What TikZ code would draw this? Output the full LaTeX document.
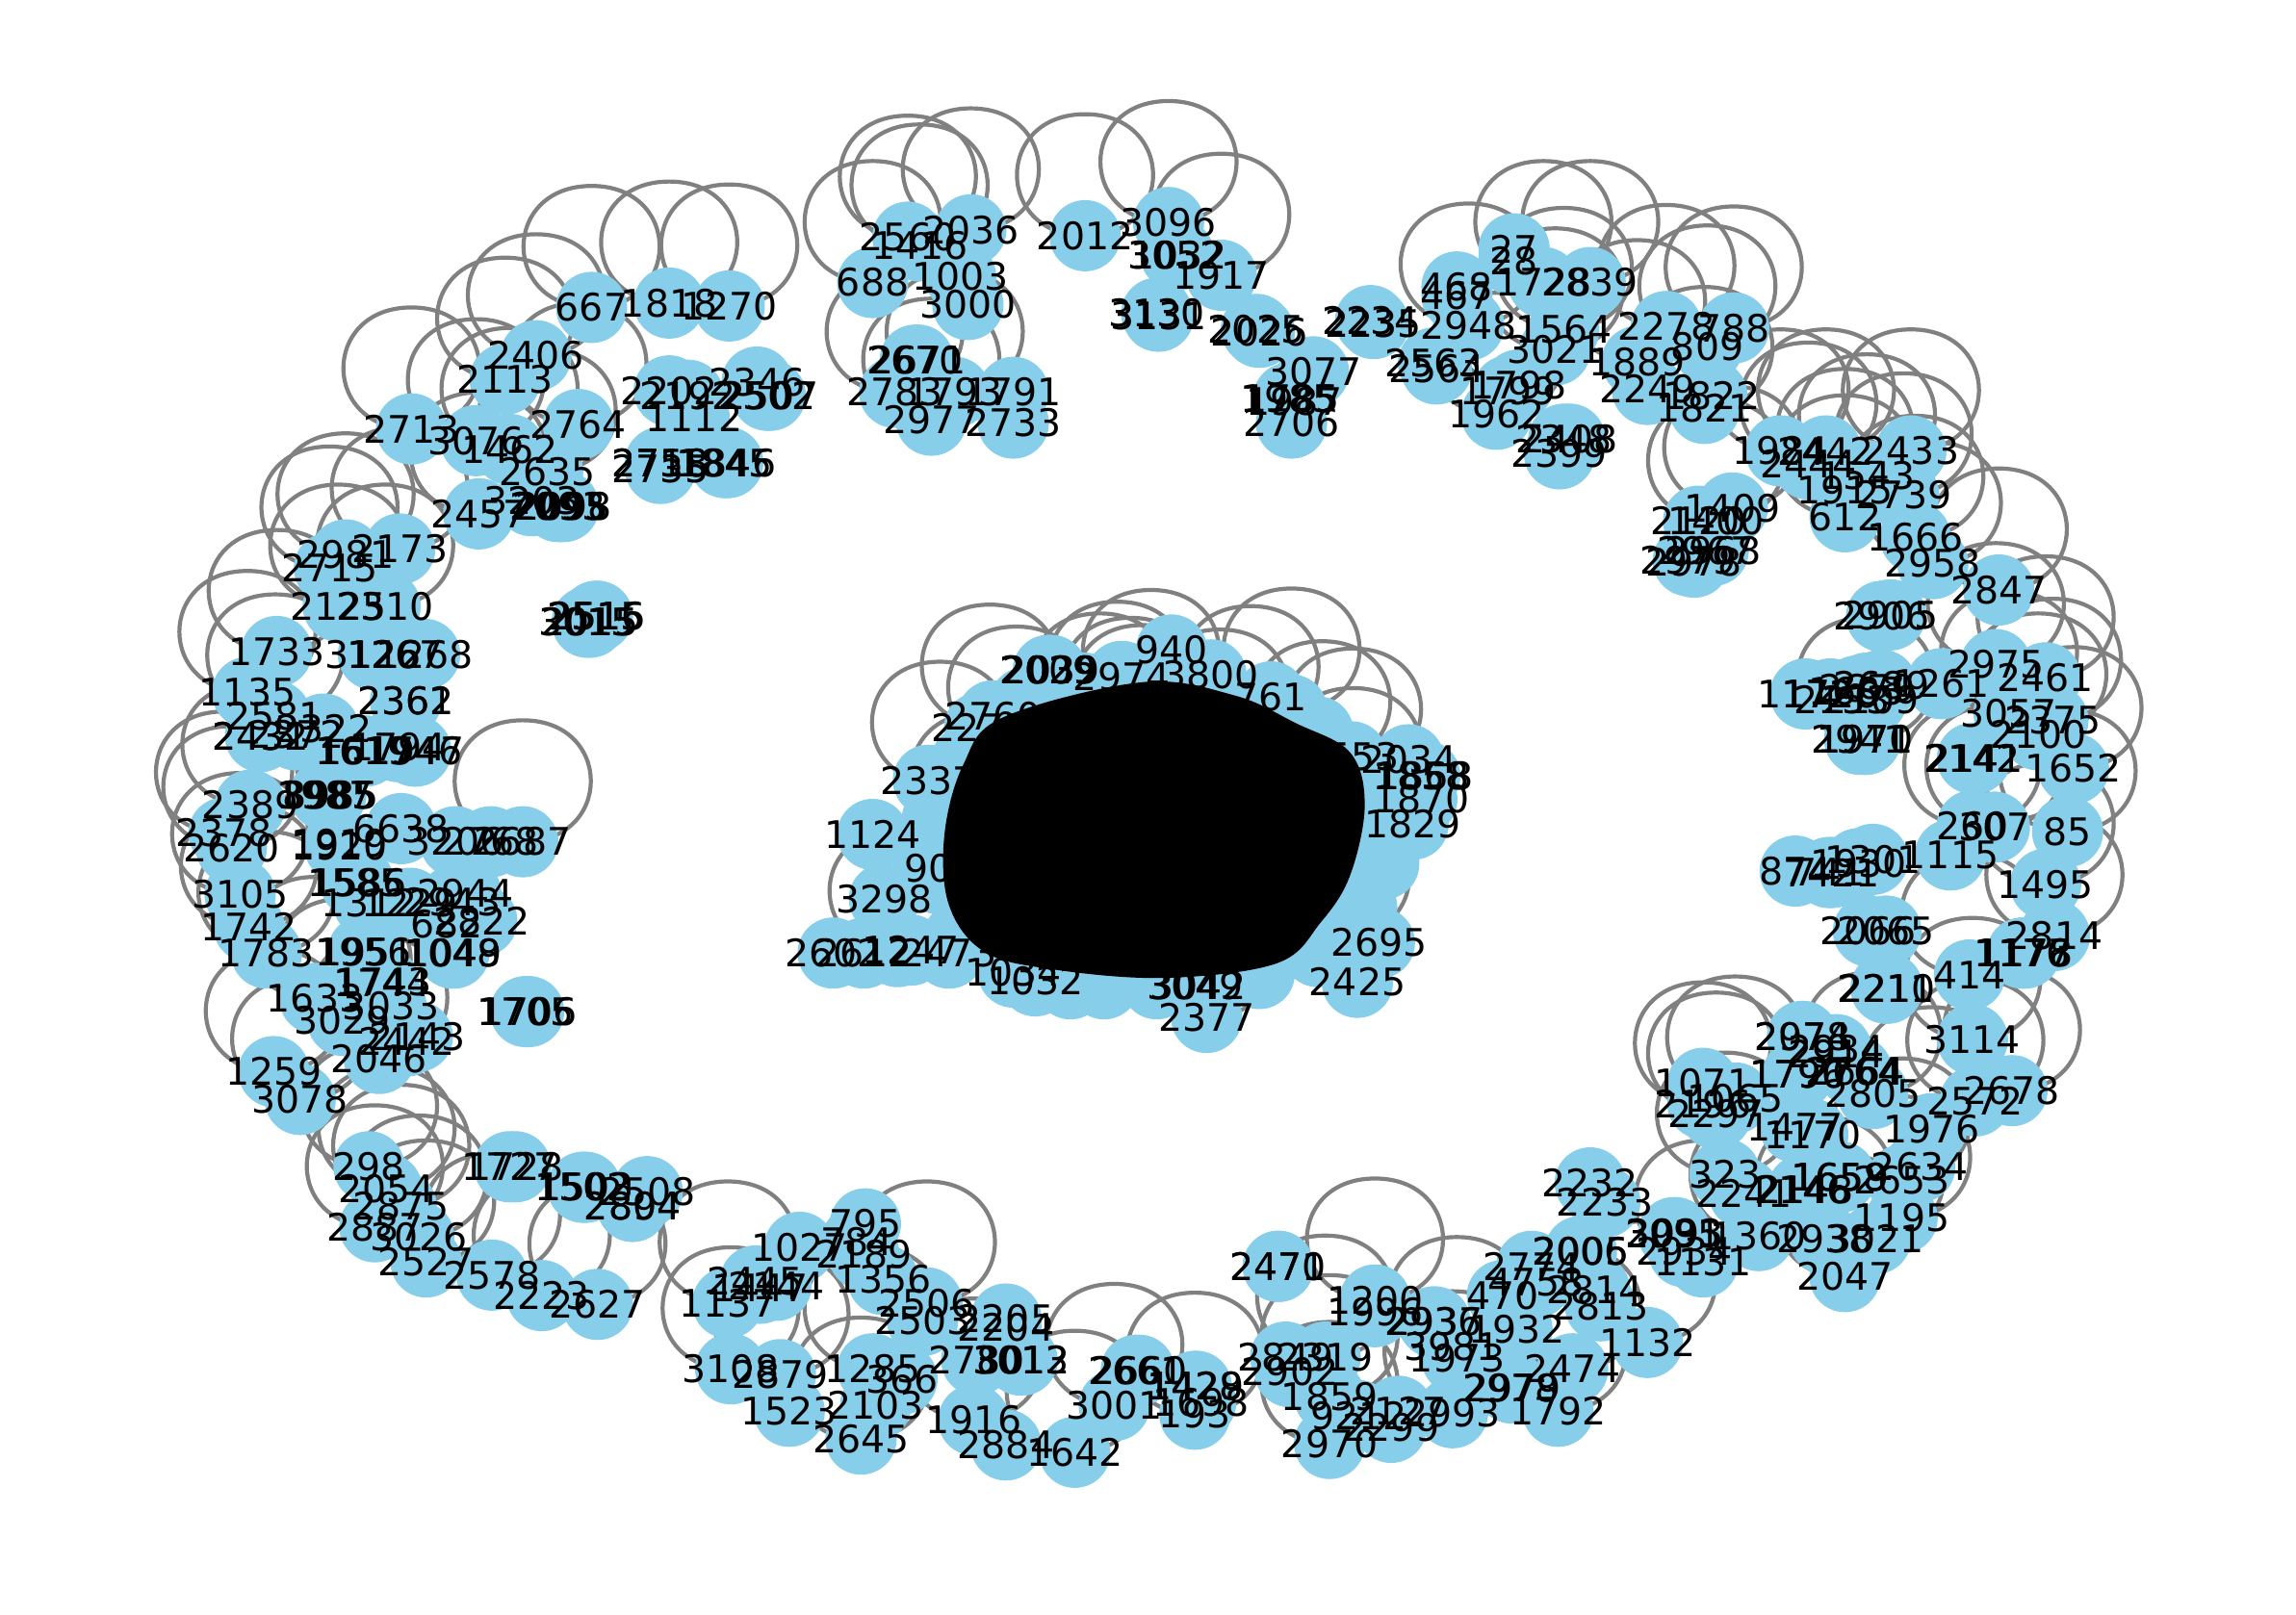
\documentclass[tikz,border=0pt]{standalone}
\usepackage{fontspec}
\setmainfont{DejaVu Sans}
\definecolor{nodeblue}{HTML}{87CEEB}
\tikzset{
  disc/.style={circle,fill=nodeblue,draw=none,minimum size=37pt,inner sep=0pt},
  lab/.style={inner sep=0pt,text=black,font=\fontsize{19.7}{20}\selectfont},
  selfloop/.style={draw=gray,line width=2.1pt}
}
\newcommand{\loopat}[1]{\draw[selfloop] (#1) .. controls +(62,0) and +(62,0) .. ++(0,-83) .. controls +(-62,0) and +(-62,0) .. (#1);}
\def\looplist{
741/161/2012,798/152/3096,834/188/1917,620/162/2560,628/168/1416,663/157/2036,596/193/688,
611/268/2783,636/287/2977,652/268/1793,1003/222/2948,1054/193/1728,1086/193/2839,1068/225/1564,1062/239/3021,
1037/263/1798,1022/283/1962,1138/223/2278,1184/224/788,1166/237/809,1118/247/1889,1164/279/1821,
1183/347/1409,1172/356/1400,1216/308/1984,1247/308/2442,1235/317/2444,1275/325/1543,1260/335/1915,1305/308/2433,
1300/338/2739,1260/353/612,1308/367/1666,1320/385/2958,1365/403/2847,1274/505/1971,1363/454/2975,1397/463/2461,
1372/487/3057,1402/492/2375,1392/502/2100,1416/525/1652,1412/568/85,1347/564/260,1362/565/307,1397/604/1495,1403/639/2814,
1345/666/414,1347/710/3114,1374/745/2678,1349/752/2572,1319/771/1976,1279/747/2805,1163/754/2196,1185/750/1065,1172/761/2297,
1178/802/323,1299/806/2653,1299/832/1195,1281/846/3021,1246/846/2938,1201/844/1360,1260/872/2047,1163/862/1131,
1125/917/1132,1074/935/2474,1064/964/1792,995/928/1973,992/965/2993,950/975/2299,908/986/2970,908/954/1859,
939/888/1200,905/927/2319,761/960/3001,816/966/193,734/992/1642,
633/890/2506,497/890/1137,499/935/3108,533/939/2879,
596/935/1285,588/983/2645,665/970/1916,
408/891/2627,370/885/2223,336/871/2578,291/862/2527,286/845/3026,256/838/2887,274/824/2875,264/812/2054,252/797/298,
189/445/1733,169/473/1135,188/489/2581,171/550/2389,153/569/2378,158/579/2620,164/611/3105,170/633/1742,182/651/1783,
215/682/1633,234/697/3029,259/723/2046,187/732/1259,205/751/3078,357/575/2687,
404/210/667,457/207/1818,498/209/1270,366/243/2406,345/259/2113,281/293/2713,325/301/3076,395/290/2764,348/307/1462,374/322/2635,
327/351/2457,236/379/2981,225/388/2715,273/375/2173,231/414/2125,263/414/2310,824/695/2377}
\def\plainlist{
1163/740/1071,1311/797/2634,1089/881/2814,1046/865/2774,881/937/2902,776/936/2661,
591/836/795,585/848/784,546/852/1027,603/874/1356,630/902/2503,539/964/1523,616/942/366,598/960/2103,667/929/2780,687/907/2204,687/987/2884,
800/444/940,827/461/3800,868/476/761,634/533/2337,596/570/1124,634/593/90,604/614/3298,927/671/2425,942/644/2695,965/563/1829,923/517/2553,962/519/2034,
803/174/3052,805/174/1032,790/214/3130,791/216/3131,858/225/2025,860/227/2026,936/219/2234,938/221/2235,897/254/3077,
882/289/2706,880/272/1985,882/272/1785,884/274/1987,656/189/1003,661/208/3000,625/246/2670,627/246/2671,692/268/1791,692/289/2733,
1034/170/27,1034/178/28,995/196/468,995/202/467,979/248/2563,981/252/2564,1030/267/1799,1072/300/2408,1068/300/2348,1065/310/2399,
1125/266/2249,1169/270/1822,1160/356/2120,1170/376/2968,1165/376/2967,1153/383/2979,1157/384/2978,
1233/474/1172,1250/474/1726,1258/478/2153,1268/472/1683,1275/470/2679,1285/468/2689,1278/478/2109,1326/467/1261,
1291/420/2905,1285/421/2906,1274/505/1970,1270/505/2941,1349/518/2141,1347/518/2142,1226/595/874,1251/596/7421,1249/596/741,
1269/590/1930,1279/587/1301,1332/584/1115,1381/651/1176,1382/651/1177,1383/651/1178,1288/636/2065,1276/636/2066,1289/675/2210,1288/675/2211,
1231/708/2078,1231/708/2974,1254/717/2934,1254/720/2914,1228/734/1790,1228/734/1796,1266/732/2764,1268/732/2664,
1238/775/1170,1226/770/1477,1191/815/2241,1231/813/2146,1233/813/2148,1256/804/1658,1257/804/1659,
1143/842/3091,1144/842/3093,1143/843/2935,1150/855/2934,1086/808/2232,1096/821/2233,873/865/2470,873/865/2471,
1079/855/2006,1080/855/2005,1049/876/4758,1093/892/2813,1026/885/470,1036/908/1932,1032/948/2978,1033/948/2979,
928/967/9212,955/964/2127,878/927/2849,939/896/1996,979/903/2936,980/903/2937,992/920/3981,
778/936/2660,816/947/1428,817/947/1429,820/958/1698,590/857/2189,516/875/2445,530/878/2144,519/880/1447,
697/929/3013,698/929/3012,687/901/2205,348/797/1727,352/797/1728,398/811/1502,400/811/1503,442/814/2508,432/824/2894,432/824/2804,
178/503/2432,178/503/2431,202/502/2372,221/498/2322,248/513/1619,250/513/1617,272/510/1794,283/513/1946,284/513/1947,
277/479/2361,277/479/2362,255/447/3126,270/447/1267,290/447/1268,224/543/3985,226/543/8985,222/543/1987,
232/576/1919,232/578/1920,274/566/6638,311/575/3206,335/575/2768,243/603/1585,245/603/1586,252/617/1312,280/617/1229,
318/610/2944,309/616/2943,329/629/2822,305/631/682,248/650/1956,250/650/1951,309/651/1048,310/651/1049,
261/671/1744,262/671/1743,267/687/3033,285/708/2143,278/711/2442,359/691/1705,361/691/1706,
457/267/2202,470/270/2192,474/285/1112,517/261/2346,524/270/2502,526/270/2507,451/316/2718,451/316/2758,451/320/2735,495/316/1845,497/316/1846,
363/342/3203,383/346/2095,385/346/2098,381/346/2093,407/421/2515,408/421/2516,401/425/3015,403/425/2015,
716/458/2009,716/458/2029,718/458/2039,766/462/2974,678/489/2760,669/497/2275,569/651/2602,590/651/2612,622/649/1247,648/651/2473,
816/673/3049,818/673/3042,692/664/1034,707/670/1032,971/546/1870,971/530/1858,973/530/1868}
\def\hiddenlist{
676/496,694/511,642/535,786/486,763/494,882/485,854/497,833/513,903/521,924/526,924/553,751/502,772/505,780/510,916/640,613/650,669/570,
700/480,740/470,810/470,900/500,950/540,945/590,930/620,900/650,860/665,790/672,731/672,754/672,690/660,655/640,640/600,640/560,660/520}
\begin{document}
\begin{tikzpicture}[x=0.7605pt,y=-0.7605pt]
\useasboundingbox (0,0) rectangle (1568,1103);
% pass 1: anchor points and self-loops (lowest in the stack)
\foreach \x/\y/\t [count=\i] in \looplist {\coordinate (a\i) at (\x,\y); \loopat{a\i}}
\foreach \x/\y [count=\i] in \hiddenlist {\coordinate (h\i) at (\x,\y);}
\foreach \i in {1,...,17} {\loopat{h\i}}
% pass 2: discs
\foreach \x/\y/\t [count=\i] in \looplist {\node[disc] (da\i) at (\x,\y) {};}
\foreach \x/\y/\t [count=\i] in \plainlist {\node[disc] (db\i) at (\x,\y) {};}
\foreach \x/\y [count=\i] in \hiddenlist {\node[disc] (dh\i) at (\x,\y) {};}
% pass 3: labels on top
\foreach \x/\y/\t [count=\i] in \looplist {\node[lab] (la\i) at (\x,\y) {\t};}
\foreach \x/\y/\t [count=\i] in \plainlist {\node[lab] (lb\i) at (\x,\y) {\t};}
% the mass of overlapping labels at the centre
\fill[black] plot[smooth cycle,tension=0.6] coordinates {(780,466)(843,475)(885,494)(922,514)(932,550)(922,598)(902,630)(872,658)(795,668)(718,662)(672,650)(648,618)(645,570)(658,522)(685,490)};
\end{tikzpicture}
\end{document}
